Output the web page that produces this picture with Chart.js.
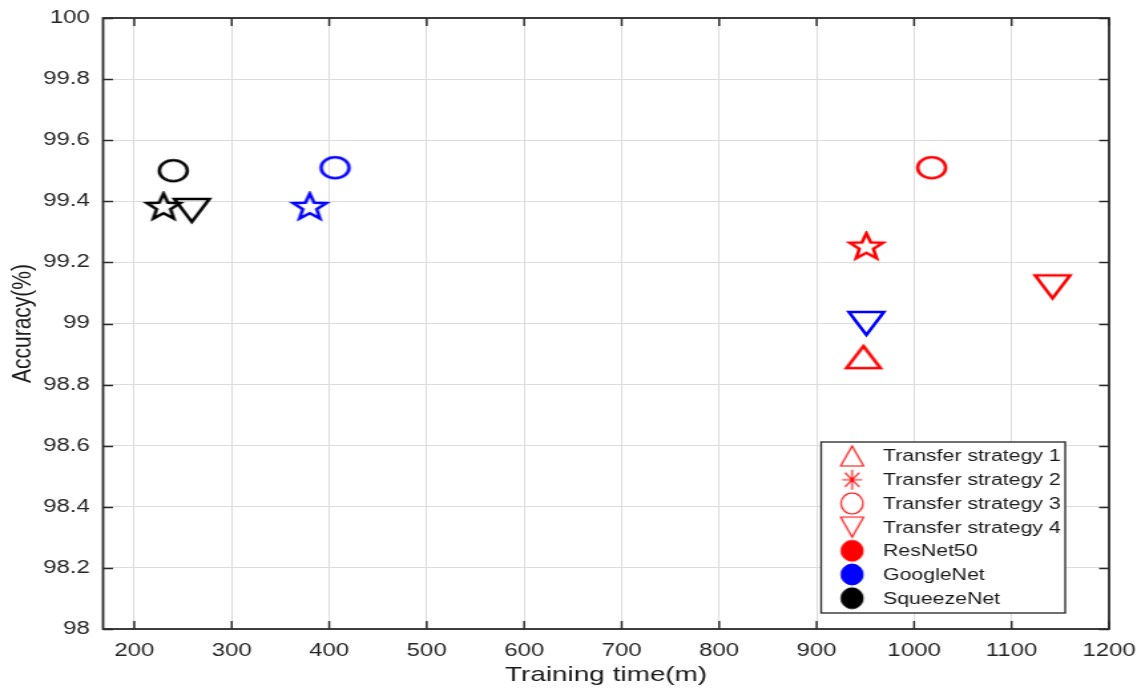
<!DOCTYPE html>
<html>
<head>
<meta charset="utf-8">
<script src="https://cdn.jsdelivr.net/npm/chart.js@4/dist/chart.umd.min.js"></script>
<style>
  html, body { margin: 0; padding: 0; background: #fff; overflow: hidden; }
  /* the source figure is a MATLAB plot stretched sideways, so draw narrow and stretch */
  #wrap { width: 855px; height: 688px; transform: scaleX(1.32982); transform-origin: 0 0; }
  #chart { display: block; }
</style>
</head>
<body>
<div id="wrap"><canvas id="chart" width="855" height="688"></canvas></div>
<script>
// data
const strategies = ['Transfer strategy 1', 'Transfer strategy 2', 'Transfer strategy 3', 'Transfer strategy 4'];
const models = ['ResNet50', 'GoogleNet', 'SqueezeNet'];
const modelColors = ['#ff0000', '#0000ff', '#000000'];

// training time (m) and accuracy (%) per strategy, null = not plotted
const resnetTime = [948, 951, 1018, 1142];
const resnetAcc = [98.89, 99.25, 99.51, 99.12];
const googleTime = [null, 380, 406, 951];
const googleAcc = [null, 99.38, 99.51, 99.0];
const squeezeTime = [null, 230, 240, 259];
const squeezeAcc = [null, 99.38, 99.50, 99.37];

const xTickValues = [200, 300, 400, 500, 600, 700, 800, 900, 1000, 1100, 1200];
const xTickLabels = ['200', '300', '400', '500', '600', '700', '800', '900', '1000', '1100', '1200'];
const yTickValues = [98, 98.2, 98.4, 98.6, 98.8, 99, 99.2, 99.4, 99.6, 99.8, 100];
const yTickLabels = ['98', '98.2', '98.4', '98.6', '98.8', '99', '99.2', '99.4', '99.6', '99.8', '100'];

const FONT = "'Liberation Sans', Arial, sans-serif";
const SX = 1.32982; // horizontal stretch of the page

// marker images drawn on small canvases
function makeMarker(shape, color, w, h, lw, fill) {
    const pad = Math.ceil(lw) + 1;
    const c = document.createElement('canvas');
    c.width = Math.ceil(w) + pad * 2;
    c.height = Math.ceil(h) + pad * 2;
    const g = c.getContext('2d');
    g.translate(c.width / 2, c.height / 2);
    g.strokeStyle = color;
    g.fillStyle = color;
    g.lineWidth = lw;
    g.lineJoin = 'miter';
    g.beginPath();
    if (shape === 'circle') {
        g.ellipse(0, 0, w / 2, h / 2, 0, 0, Math.PI * 2);
    } else if (shape === 'triUp') {
        g.moveTo(0, -h / 2);
        g.lineTo(w / 2, h / 2);
        g.lineTo(-w / 2, h / 2);
        g.closePath();
    } else if (shape === 'triDown') {
        g.moveTo(-w / 2, -h / 2);
        g.lineTo(w / 2, -h / 2);
        g.lineTo(0, h / 2);
        g.closePath();
    } else if (shape === 'star') {
        const rx = w / 2 / 0.951, ry = h / 1.809;
        for (let i = 0; i < 10; i++) {
            const r = i % 2 === 0 ? 1 : 0.42;
            const a = -Math.PI / 2 + i * Math.PI / 5;
            const px = Math.cos(a) * r * rx;
            const py = Math.sin(a) * r * ry;
            if (i === 0) g.moveTo(px, py); else g.lineTo(px, py);
        }
        g.closePath();
    } else if (shape === 'asterisk') {
        g.moveTo(-w / 2, 0); g.lineTo(w / 2, 0);
        g.moveTo(0, -h / 2); g.lineTo(0, h / 2);
        g.moveTo(-w * 0.36, -h * 0.36); g.lineTo(w * 0.36, h * 0.36);
        g.moveTo(w * 0.36, -h * 0.36); g.lineTo(-w * 0.36, h * 0.36);
    }
    if (fill) g.fill();
    g.stroke();
    return c;
}

const shapes = ['triUp', 'star', 'circle', 'triDown'];
const plotSizes = {
    triUp: [25.6, 22],
    star: [25, 25],
    circle: [21, 21],
    triDown: [26.3, 23]
};

function plotMarkers(color) {
    return shapes.map(s => makeMarker(s, color, plotSizes[s][0], plotSizes[s][1], 2.6, false));
}
const modelMarkers = modelColors.map(plotMarkers);

function buildPoints(times, accs) {
    const pts = [];
    times.forEach((t, i) => {
        if (t !== null) pts.push({ x: t, y: accs[i], s: i });
    });
    return pts;
}

const seriesTimes = [resnetTime, googleTime, squeezeTime];
const seriesAccs = [resnetAcc, googleAcc, squeezeAcc];

const datasets = models.map((m, k) => ({
    label: m,
    data: buildPoints(seriesTimes[k], seriesAccs[k]),
    showLine: false,
    pointStyle: ctx => modelMarkers[k][ctx.raw ? ctx.raw.s : 0],
    pointRadius: 13,
    borderColor: modelColors[k],
    backgroundColor: modelColors[k]
}));

// box + inward ticks like MATLAB
const axesBox = {
    id: 'axesBox',
    afterDatasetsDraw(chart) {
        const { ctx, chartArea: a, scales } = chart;
        ctx.save();
        ctx.strokeStyle = '#2b2b2b';
        ctx.lineWidth = 1.8;
        ctx.strokeRect(a.left, a.top, a.right - a.left, a.bottom - a.top);
        ctx.lineWidth = 1.5;
        ctx.beginPath();
        xTickValues.forEach(v => {
            const x = scales.x.getPixelForValue(v);
            ctx.moveTo(x, a.bottom); ctx.lineTo(x, a.bottom - 8);
            ctx.moveTo(x, a.top); ctx.lineTo(x, a.top + 8);
        });
        yTickValues.forEach(v => {
            const y = Math.round(scales.y.getPixelForValue(v)) + 0.5;
            ctx.moveTo(a.left, y); ctx.lineTo(a.left + 7.5, y);
            ctx.moveTo(a.right, y); ctx.lineTo(a.right - 7.5, y);
        });
        ctx.stroke();
        ctx.restore();
    }
};

// legend inside the plot, bottom right
const legendBox = {
    id: 'legendBox',
    afterDraw(chart) {
        const ctx = chart.ctx;
        const bx = 617.5, by = 442, bw = 183.5, bh = 171;
        ctx.save();
        ctx.fillStyle = '#fff';
        ctx.fillRect(bx, by, bw, bh);
        ctx.strokeStyle = '#333';
        ctx.lineWidth = 1.4;
        ctx.strokeRect(bx, by, bw, bh);

        const items = [
            [makeMarker('triUp', '#ff0000', 23 / SX, 20, 1.1, false), strategies[0]],
            [makeMarker('asterisk', '#ff0000', 20 / SX, 20, 1.1, false), strategies[1]],
            [makeMarker('circle', '#ff0000', 22 / SX, 21, 1.1, false), strategies[2]],
            [makeMarker('triDown', '#ff0000', 23 / SX, 20, 1.1, false), strategies[3]],
            [makeMarker('circle', modelColors[0], 22 / SX, 21, 1, true), models[0]],
            [makeMarker('circle', modelColors[1], 22 / SX, 21, 1, true), models[1]],
            [makeMarker('circle', modelColors[2], 22 / SX, 21, 1, true), models[2]]
        ];
        ctx.font = '16px ' + FONT;
        ctx.fillStyle = '#1a1a1a';
        ctx.textBaseline = 'middle';
        items.forEach((it, i) => {
            const cy = 456 + i * 23.7;
            const img = it[0];
            ctx.drawImage(img, 640.7 - img.width / 2, cy - img.height / 2);
            ctx.fillText(it[1], 664, cy + 1);
        });
        ctx.restore();
    }
};

new Chart(document.getElementById('chart').getContext('2d'), {
    type: 'scatter',
    data: { datasets: datasets },
    plugins: [axesBox, legendBox],
    options: {
        responsive: false,
        animation: false,
        events: [],
        layout: { padding: { top: 18, right: 21, left: 0, bottom: 0 } },
        plugins: {
            legend: { display: false },
            tooltip: { enabled: false }
        },
        scales: {
            x: {
                type: 'linear',
                min: 168,
                max: 1200,
                afterBuildTicks: axis => { axis.ticks = xTickValues.map(v => ({ value: v })); },
                afterFit: axis => { axis.height = 59; axis.paddingLeft = 0; axis.paddingRight = 0; },
                grid: { color: '#dcdcdc', lineWidth: 1, drawTicks: false },
                border: { display: false },
                ticks: {
                    padding: 11,
                    color: '#262626',
                    font: { family: FONT, size: 18 },
                    maxRotation: 0,
                    autoSkip: false,
                    callback: (v, i) => xTickLabels[i]
                },
                title: {
                    display: true,
                    text: 'Training time(m)',
                    color: '#1a1a1a',
                    font: { family: FONT, size: 21 },
                    padding: { top: 0, bottom: 0 }
                }
            },
            y: {
                type: 'linear',
                min: 98,
                max: 100,
                afterBuildTicks: axis => { axis.ticks = yTickValues.map(v => ({ value: v })); },
                afterFit: axis => { axis.width = 77.5; axis.paddingTop = 0; axis.paddingBottom = 0; },
                grid: { color: '#dcdcdc', lineWidth: 1, drawTicks: false },
                border: { display: false },
                ticks: {
                    padding: 10,
                    color: '#262626',
                    font: { family: FONT, size: 18 },
                    autoSkip: false,
                    callback: (v, i) => yTickLabels[i]
                },
                title: {
                    display: true,
                    text: 'Accuracy(%)',
                    color: '#1a1a1a',
                    font: { family: FONT, size: 21 },
                    padding: { top: 5, bottom: 0 }
                }
            }
        }
    }
});
</script>
</body>
</html>
